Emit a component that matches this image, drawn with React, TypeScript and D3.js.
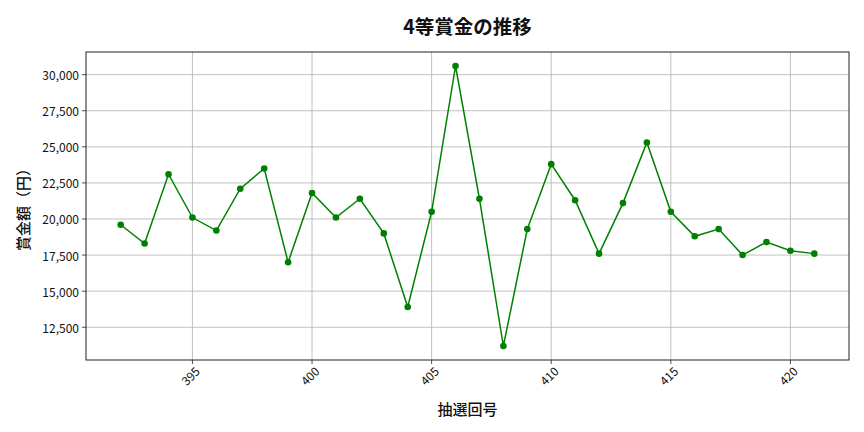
import * as d3 from "d3"

const draws = [392, 393, 394, 395, 396, 397, 398, 399, 400, 401, 402, 403, 404, 405, 406, 407, 408, 409, 410, 411, 412, 413, 414, 415, 416, 417, 418, 419, 420, 421]
const prizes = [19600, 18300, 23100, 20100, 19200, 22100, 23500, 17000, 21800, 20100, 21400, 19000, 13900, 20500, 30600, 21400, 11200, 19300, 23800, 21300, 17600, 21100, 25300, 20500, 18800, 19300, 17500, 18400, 17800, 17600]
const xTicks = [395, 400, 405, 410, 415, 420]
const yTicks = [12500, 15000, 17500, 20000, 22500, 25000, 27500, 30000]

const W = 864
const H = 432
const M = { left: 86, right: 849, top: 52, bottom: 360 }
const FONT = "'Noto Sans CJK JP', 'Noto Sans', sans-serif"

export default function App() {
  const [x0, x1] = d3.extent(draws) as [number, number]
  const [y0, y1] = d3.extent(prizes) as [number, number]
  const xPad = (x1 - x0) * 0.05
  const yPad = (y1 - y0) * 0.05
  const x = d3.scaleLinear().domain([x0 - xPad, x1 + xPad]).range([M.left, M.right])
  const y = d3.scaleLinear().domain([y0 - yPad, y1 + yPad]).range([M.bottom, M.top])
  const fmt = d3.format(",")

  const line = d3.line<number>()
    .x((_, i) => x(draws[i]))
    .y((v) => y(v))

  return (
    <svg width={W} height={H} style={{ position: "absolute", left: 0, top: 0 }} fontFamily={FONT}>
      <rect width={W} height={H} fill="#fff" />
      {/* grid */}
      {xTicks.map((t) => (
        <line key={"gx" + t} x1={x(t)} x2={x(t)} y1={M.top} y2={M.bottom} stroke="#b0b0b0" strokeWidth={0.8} />
      ))}
      {yTicks.map((t) => (
        <line key={"gy" + t} x1={M.left} x2={M.right} y1={y(t)} y2={y(t)} stroke="#b0b0b0" strokeWidth={0.8} />
      ))}

      <path d={line(prizes) ?? ""} fill="none" stroke="green" strokeWidth={1.5} />
      {prizes.map((v, i) => (
        <circle key={i} cx={x(draws[i])} cy={y(v)} r={3.3} fill="green" />
      ))}

      <rect x={M.left} y={M.top} width={M.right - M.left} height={M.bottom - M.top} fill="none" stroke="#222" strokeWidth={1} />

      {/* x ticks */}
      {xTicks.map((t) => (
        <g key={"tx" + t}>
          <line x1={x(t)} x2={x(t)} y1={M.bottom} y2={M.bottom + 4} stroke="#222" strokeWidth={0.8} />
          <text transform={`translate(${x(t) - 1},${M.bottom + 17}) rotate(-45)`} textAnchor="middle" dominantBaseline="middle" fontSize={12} fill="#111">{t}</text>
        </g>
      ))}
      {/* y ticks */}
      {yTicks.map((t) => (
        <g key={"ty" + t}>
          <line x1={M.left - 4} x2={M.left} y1={y(t)} y2={y(t)} stroke="#222" strokeWidth={0.8} />
          <text x={M.left - 7} y={y(t)} textAnchor="end" dominantBaseline="central" fontSize={12} fill="#111">{fmt(t)}</text>
        </g>
      ))}

      <text x={(M.left + M.right) / 2} y={25} textAnchor="middle" dominantBaseline="central" fontSize={19.5} fontWeight="bold" fill="#111">4等賞金の推移</text>
      <text x={(M.left + M.right) / 2} y={408} textAnchor="middle" dominantBaseline="central" fontSize={15} fontWeight={500} fill="#111">抽選回号</text>
      <text transform={`translate(22,${(M.top + M.bottom) / 2}) rotate(-90)`} textAnchor="middle" dominantBaseline="central" fontSize={15} fontWeight={500} fill="#111">賞金額（円）</text>
    </svg>
  )
}
